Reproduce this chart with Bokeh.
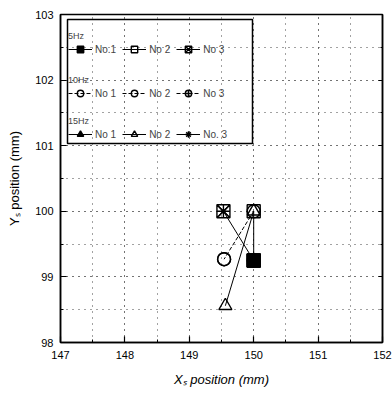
from bokeh.plotting import figure
from bokeh.models import Legend, LegendItem, SingleIntervalTicker, LinearAxis, BoxAnnotation, Range1d
from bokeh.embed import file_html
from bokeh.resources import INLINE

# ---- data ----
# 5 Hz
x_5_no1 = [150.00]; y_5_no1 = [99.25]
x_5_no2 = [150.00, 150.00]; y_5_no2 = [100.00, 99.25]
x_5_no3 = [149.53, 150.00]; y_5_no3 = [100.00, 99.25]
# 10 Hz
x_10_no1 = [150.00, 149.54]; y_10_no1 = [100.00, 99.27]
x_10_no2 = [149.54]; y_10_no2 = [99.27]
x_10_no3 = [150.00]; y_10_no3 = [99.25]
# 15 Hz
x_15_no1 = [150.00]; y_15_no1 = [99.25]
x_15_no2 = [150.00, 149.56]; y_15_no2 = [100.00, 98.56]
x_15_no3 = [149.53]; y_15_no3 = [100.00]

legend_titles = ["5Hz", "10Hz", "15Hz"]
labels_5 = ["No.1", "No 2", "No 3"]
labels_10 = ["No 1", "No 2", "No 3"]
labels_15 = ["No 1", "No 2", "No. 3"]

FONT = "Liberation Sans"

p = figure(width=392, height=393, x_range=Range1d(147, 152), y_range=Range1d(98, 103),
           output_backend="svg", toolbar_location=None,
           min_border_left=60, min_border_right=10, min_border_top=14, min_border_bottom=51)
p.background_fill_color = "white"
p.border_fill_color = "white"
p.outline_line_color = "black"
p.outline_line_width = 1.5

for ax in (p.xaxis[0], p.yaxis[0]):
    ax.ticker = SingleIntervalTicker(interval=1, num_minor_ticks=2)
    ax.major_tick_in = 6
    ax.major_tick_out = 0
    ax.minor_tick_in = 3
    ax.minor_tick_out = 0
    ax.axis_line_width = 1.5
    ax.major_tick_line_width = 1.2
    ax.major_label_text_font = FONT
    ax.major_label_text_font_size = "11px"
    ax.major_label_text_color = "black"
    ax.axis_label_text_font = FONT
    ax.axis_label_text_font_size = "13px"
    ax.axis_label_text_color = "black"

p.xaxis.major_label_standoff = 8
p.yaxis.major_label_standoff = 7
p.xaxis.axis_label = "Xₛ position (mm)"
p.xaxis.axis_label_text_font_style = "italic"
p.xaxis.axis_label_standoff = 10
p.yaxis.axis_label = "Yₛ position (mm)"
p.yaxis.axis_label_text_font_style = "normal"
p.yaxis.axis_label_standoff = 10

ax_r = LinearAxis(ticker=SingleIntervalTicker(interval=1, num_minor_ticks=2),
                  major_tick_in=4, major_tick_out=0, minor_tick_in=2, minor_tick_out=0,
                  major_label_text_color=None, major_label_text_font_size="1px",
                  major_label_standoff=0, axis_line_width=1.5)
p.add_layout(ax_r, "right")

for g in (p.xgrid[0], p.ygrid[0]):
    g.grid_line_color = "#444444"
    g.grid_line_dash = "1 5"
    g.grid_line_width = 1
    g.minor_grid_line_color = "#444444"
    g.minor_grid_line_dash = "1 5"
    g.minor_grid_line_width = 1


def series(xs, ys, marker, fill, dash="solid"):
    ln = p.line(xs, ys, line_color="black", line_width=1, line_dash=dash)
    sc = p.scatter(xs, ys, marker=marker, size=13, line_color="black", line_width=1.4,
                   fill_color=fill)
    return [ln, sc]


r5 = [series(x_5_no1, y_5_no1, "square", "black"),
      series(x_5_no2, y_5_no2, "square", None),
      series(x_5_no3, y_5_no3, "square_x", None)]
r10 = [series(x_10_no1, y_10_no1, "circle", None, "4 2"),
       series(x_10_no2, y_10_no2, "circle", None, "4 2"),
       series(x_10_no3, y_10_no3, "circle_cross", None, "4 2")]
r15 = [series(x_15_no1, y_15_no1, "triangle", "black"),
       series(x_15_no2, y_15_no2, "triangle", None),
       series(x_15_no3, y_15_no3, "asterisk", None)]

# legend frame, in screen pixels measured from the frame's bottom-left
box = BoxAnnotation(left=7, right=192, top=323, bottom=199,
                    left_units="screen", right_units="screen", top_units="screen", bottom_units="screen",
                    fill_alpha=0, line_color="black", line_alpha=1, line_width=1.5)
p.add_layout(box)

for title, rends, labels, vy in ((legend_titles[0], r5, labels_5, 285),
                                 (legend_titles[1], r10, labels_10, 241),
                                 (legend_titles[2], r15, labels_15, 200)):
    items = [LegendItem(label=lab, renderers=r) for lab, r in zip(labels, rends)]
    lg = Legend(items=items, title=title, orientation="horizontal", location=(8, vy),
                border_line_color=None, background_fill_alpha=0, padding=1, spacing=6, margin=0,
                label_text_font=FONT, label_text_font_size="10px", label_height=12,
                title_text_font=FONT, title_text_font_size="9px", title_text_font_style="normal",
                title_standoff=0, glyph_width=24, glyph_height=16, label_standoff=3)
    p.add_layout(lg)

open("out.html", "w").write(file_html(p, INLINE))
